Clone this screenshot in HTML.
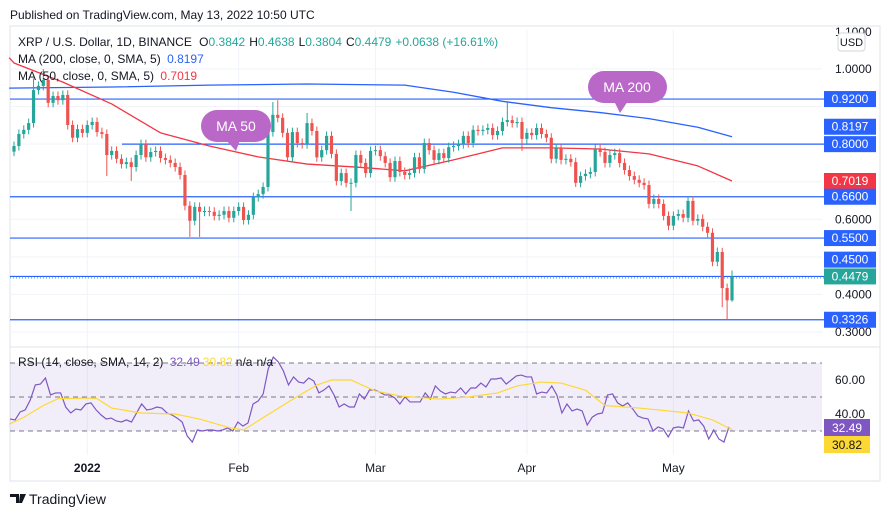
<!DOCTYPE html>
<html><head><meta charset="utf-8"><style>
body{margin:0;background:#fff;width:890px;height:518px;overflow:hidden;font-family:"Liberation Sans",sans-serif;}
svg text{font-family:"Liberation Sans",sans-serif;}
</style></head><body>
<svg id="c" width="890" height="518" xmlns="http://www.w3.org/2000/svg">
<text x="10" y="19" font-size="12" fill="#131722">Published on TradingView.com, May 13, 2022 10:50 UTC</text>
<rect x="10" y="26" width="870" height="455" fill="none" stroke="#e0e3eb"/>
<g id="grid"></g>
<rect x="10" y="363" width="812" height="68" fill="#7e57c2" fill-opacity="0.1"/>
<g id="hl"></g>
<g id="ma"></g>
<g id="cd"></g>
<g id="rsi"></g>
<g id="ax"></g>
<line x1="10" y1="347" x2="880" y2="347" stroke="#e0e3eb"/>
<g>
<rect x="201" y="110" width="70" height="32" rx="16" fill="#ba68c8"/><path d="M226 140 L236 151 L240 140 Z" fill="#ba68c8"/>
<text x="236" y="131" font-size="14" fill="#fff" text-anchor="middle">MA 50</text></g>
<g>
<rect x="588" y="71" width="79" height="32" rx="16" fill="#ba68c8"/><path d="M614 101 L620 113 L628 101 Z" fill="#ba68c8"/>
<text x="627" y="92" font-size="14" fill="#fff" text-anchor="middle">MA 200</text></g>
<g font-size="12">
<text x="18" y="46" fill="#131722">XRP / U.S. Dollar, 1D, BINANCE <tspan dx="4">O</tspan><tspan fill="#26a69a">0.3842</tspan><tspan dx="4">H</tspan><tspan fill="#26a69a">0.4638</tspan><tspan dx="4">L</tspan><tspan fill="#26a69a">0.3804</tspan><tspan dx="4">C</tspan><tspan fill="#26a69a">0.4479</tspan><tspan dx="4" fill="#26a69a">+0.0638 (+16.61%)</tspan></text>
<text x="18" y="63" fill="#131722">MA (200, close, 0, SMA, 5) <tspan dx="3" fill="#2962ff">0.8197</tspan></text>
<text x="18" y="80" fill="#131722">MA (50, close, 0, SMA, 5) <tspan dx="3" fill="#f23645">0.7019</tspan></text>
<text x="18" y="366" fill="#131722">RSI (14, close, SMA, 14, 2) <tspan dx="3" fill="#7e57c2">32.49</tspan><tspan dx="3" fill="#fdd835">30.82</tspan><tspan dx="3">n/a</tspan><tspan dx="4">n/a</tspan></text>
</g>
<g>
<path d="M10 494 h9 v9 h-3 v-6 h-6z M20 494 h6 l-4 9 h-3z" fill="#131722"/>
<text x="29" y="504" font-size="14" fill="#131722">TradingView</text></g>
</svg>
<script>
const closes=[0.795,0.827,0.838,0.856,0.944,0.955,0.971,0.910,0.928,0.917,0.931,0.851,0.817,0.840,0.830,0.851,0.859,0.832,0.827,0.771,0.782,0.761,0.747,0.752,0.739,0.771,0.800,0.765,
0.779,0.782,0.763,0.758,0.750,0.739,0.718,0.636,0.596,0.633,0.620,0.622,0.620,0.609,0.612,0.622,0.604,0.622,0.633,0.598,0.612,0.659,0.667,0.686,0.832,0.878,0.870,0.830,0.765,0.832,
0.803,0.800,0.856,0.835,0.765,0.784,0.822,0.774,0.702,0.723,0.697,0.697,0.771,0.750,0.723,0.782,0.784,0.768,0.750,0.712,0.755,0.726,0.718,0.723,0.765,0.734,0.803,0.784,0.758,0.776,
0.763,0.792,0.795,0.800,0.822,0.803,0.838,0.835,0.838,0.843,0.824,0.835,0.859,0.864,0.856,0.859,0.814,0.830,0.824,0.843,0.827,0.817,0.761,0.790,0.758,0.761,0.752,0.697,0.715,0.721,0.726,
0.787,0.779,0.750,0.771,0.776,0.750,0.731,0.715,0.705,0.697,0.691,0.641,0.654,0.641,0.609,0.583,0.609,0.614,0.604,0.649,0.596,0.601,0.580,0.564,0.487,0.513,0.417,0.3842,0.4479];
const firstOpen=0.780;
const wickDefault=0.012;
const highOverrides={4:0.975,6:1.0,53:0.912,54:0.917,101:0.915,120:0.80,145:0.524,147:0.4638,60:0.883};
const lowOverrides={19:0.715,24:0.702,36:0.553,38:0.553,69:0.622,104:0.782,115:0.686,145:0.366,146:0.3326,147:0.3804};
const ma200Idx=[-1,20,40,60,80,90,100,110,120,130,140,147];
const ma200Val=[0.949,0.952,0.957,0.960,0.957,0.938,0.914,0.897,0.884,0.868,0.845,0.8197];
const ma50Idx=[-1,0,10,20,30,40,50,60,70,80,90,100,110,120,130,140,147];
const ma50Val=[1.03,1.016,0.965,0.907,0.830,0.795,0.766,0.747,0.739,0.729,0.758,0.790,0.790,0.787,0.774,0.742,0.7019];
const rsiVals=[37.1,36.5,41.2,42.4,48.2,57.1,57.6,61.2,51.2,52.4,52.4,44.1,40.6,42.9,42.4,45.9,46.5,42.4,39.4,37.1,37.6,35.9,35.3,36.5,35.3,40.6,45.9,42.4,42.9,44.1,43.5,40.6,39.4,37.6,35.3,27.1,23.5,30.6,30.0,30.6,30.6,30.0,30.6,31.8,30.0,35.3,32.9,34.7,45.9,47.6,51.8,66.5,73.5,70.6,65.3,57.1,61.8,58.8,58.2,61.2,59.4,52.4,54.1,56.5,51.2,44.1,45.9,44.1,44.1,51.8,48.8,54.1,54.1,52.9,51.2,51.2,49.4,45.9,50,47.1,47.1,47.1,52.4,48.8,56.5,53.5,51.8,52.9,52.4,55.3,51.8,55.3,55.3,58.2,55.9,60.6,60.6,61.2,57.6,60,62.4,62.9,61.8,61.8,51.8,52.9,52.4,56.5,51.2,40.6,45.9,41.8,42.9,41.8,33.5,38.2,40,40.6,51.2,51.8,46.5,44.7,46.5,42.9,38.8,37.6,37.1,30,32.4,31.2,26.5,31.8,32.4,31.8,41.8,35.9,36.5,32.9,25.3,30.6,25.3,23.5,32.49];
const rsiSmaIdx=[-1,2,6,9,15,17,20,26,33,38,44,47,50,55,59,62,65,69,74,79,87,93,99,103,108,112,117,121,128,132,138,143,147];
const rsiSmaVal=[34,38,45,49,49.4,49,43.5,40.6,40,37,32,30.6,36,45,52,57,60,60,53.5,50.6,48.8,50,52.4,56.5,58.8,58.2,54,45,43.5,42.4,40.6,36.5,30.82];
const priceTicks=[1.0,0.9,0.8,0.7,0.6,0.5,0.4,0.3];
const priceTickLabels=["1.0000","","","","0.6000","","0.4000","0.3000"];
const levels=[0.92,0.80,0.66,0.55,0.4479,0.3326];
const levelLabels=["0.9200","0.8197","0.8000","0.7019","0.6600","0.5500","0.4500","0.4479","0.3326"];
const levelLabelPrices=[0.92,0.8197,0.80,0.7019,0.66,0.55,0.45,0.4479,0.3326];
const levelLabelColors=["#2962ff","#2962ff","#2962ff","#f23645","#2962ff","#2962ff","#2962ff","#26a69a","#2962ff"];
const labelShift=[0,-10,0,0,0,0,-16,0,0];
const monthIdx=[15,46,74,105,135];
const monthLabels=["2022","Feb","Mar","Apr","May"];
const rsiTicks=[60,40];

const NS="http://www.w3.org/2000/svg";
const X=i=>14+i*(718/147);
const Y=p=>69+(1-p)*375.7;
const RY=v=>397-(v-50)*1.7;
function mk(par,tag,at){const e=document.createElementNS(NS,tag);for(const k in at)e.setAttribute(k,at[k]);document.getElementById(par).appendChild(e);return e;}

priceTicks.forEach((p,i)=>{const l=mk('grid','line',{x1:10,x2:822,y1:Y(p),y2:Y(p),stroke:'#f0f3fa'});


if(priceTickLabels[i]){const t=mk('ax','text',{x:835,y:Y(p)+4,'font-size':12,fill:'#131722'});t.textContent=priceTickLabels[i];

}});
monthIdx.forEach((m,i)=>{const l=mk('grid','line',{x1:X(m),x2:X(m),y1:30,y2:455,stroke:'#f0f3fa'});


const t=mk('ax','text',{x:X(m),y:472,'font-size':12,fill:'#131722','text-anchor':'middle','font-weight':i==0?'bold':'normal'});t.textContent=monthLabels[i];

});
[363,397,431].forEach(y=>{const l=mk('grid','line',{x1:10,x2:822,y1:y,y2:y,stroke:'#787b86','stroke-dasharray':'5,4'});

});
rsiTicks.forEach(v=>{const t=mk('ax','text',{x:835,y:RY(v)+4,'font-size':12,fill:'#131722'});t.textContent=v.toFixed(2);

});
levels.forEach(p=>{const l=mk('hl','line',{x1:p==0.80?122:10,x2:824,y1:Y(p),y2:Y(p),stroke:'#2962ff','stroke-width':1.2});

});
{const l=mk('hl','line',{x1:10,x2:824,y1:Y(0.4479)+1.5,y2:Y(0.4479)+1.5,stroke:'#26a69a','stroke-dasharray':'1,2'});

}
function poly(idx,val,col,name){const pts=idx.map((k,j)=>X(k)+','+Y(val[j])).join(' ');const p=mk('ma','polyline',{points:pts,fill:'none',stroke:col,'stroke-width':1.3,'stroke-linejoin':'round'});

}
poly(ma200Idx,ma200Val,'#2962ff','ma200-line');
poly(ma50Idx,ma50Val,'#f23645','ma50-line');
closes.forEach((c,i)=>{const o=i==0?firstOpen:closes[i-1];const col=c>=o?'#26a69a':'#ef5350';
const h=highOverrides[i]!==undefined?highOverrides[i]:Math.max(o,c)+wickDefault;
const lo=lowOverrides[i]!==undefined?lowOverrides[i]:Math.min(o,c)-wickDefault;
const x=X(i);
const w=mk('cd','line',{x1:x,x2:x,y1:Y(h),y2:Y(lo),stroke:col,'stroke-width':1});


const top=Y(Math.max(o,c)),bh=Math.max(1,Y(Math.min(o,c))-top);
const b=mk('cd','rect',{x:x-1.6,y:top,width:3.2,height:bh,fill:col});

});
{const n=rsiVals.length;const pts=rsiVals.map((v,j)=>(10+j*(719/(n-1)))+','+RY(v)).join(' ');
const p=mk('rsi','polyline',{points:pts,fill:'none',stroke:'#7e57c2','stroke-width':1.2});


const p2=mk('rsi','polyline',{points:rsiSmaIdx.map((k,j)=>X(k)+','+RY(rsiSmaVal[j])).join(' '),fill:'none',stroke:'#fdd835','stroke-width':1.2});

}
levelLabels.forEach((t,i)=>{const y=Y(levelLabelPrices[i])+labelShift[i];const r=mk('ax','rect',{x:824,y:y-8,width:52,height:16,fill:levelLabelColors[i]});


const tx=mk('ax','text',{x:850,y:y+4,'font-size':12,fill:'#fff','text-anchor':'middle'});tx.textContent=t;

});
[["32.49","#7e57c2","#fff",-8],["30.82","#fdd835","#131722",9]].forEach(([t,bg,fg,off])=>{const y=427+off+8;
const r=mk('ax','rect',{x:824,y:y-8,width:46,height:17,fill:bg});


const tx=mk('ax','text',{x:847,y:y+5,'font-size':12,fill:fg,'text-anchor':'middle'});tx.textContent=t;

});
{const t=mk('ax','text',{x:835,y:36,'font-size':12,fill:'#131722'});t.textContent="1.1000";


const r=mk('ax','rect',{x:838,y:33,width:27,height:18,rx:3,fill:'#fff',stroke:'#d1d4dc'});


const u=mk('ax','text',{x:851.5,y:46,'font-size':11,fill:'#131722','text-anchor':'middle'});u.textContent="USD";

}
</script>
</body></html>
